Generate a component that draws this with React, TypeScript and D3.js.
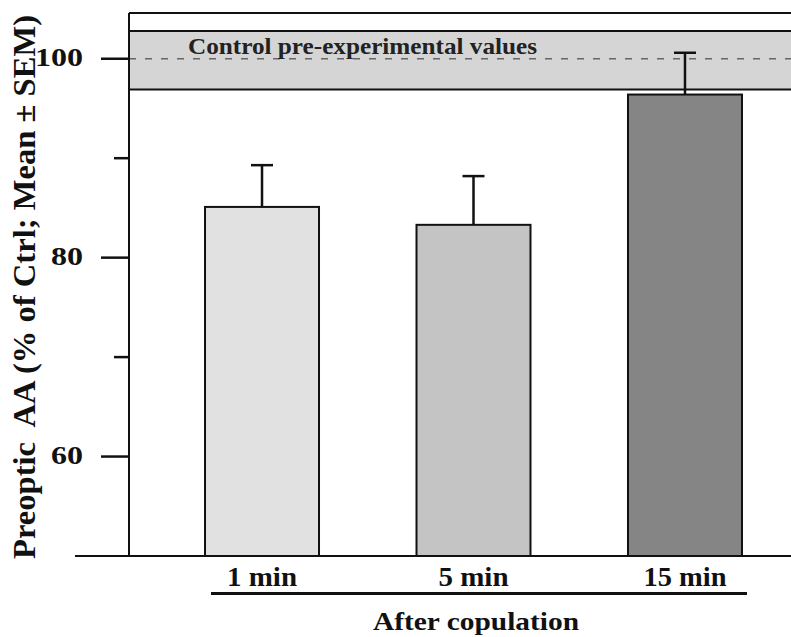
import React from 'react';
import * as d3 from 'd3';

const categories = ['1 min', '5 min', '15 min'];
const means = [85.1, 83.3, 96.4];
const sems = [4.2, 4.9, 4.2];
const barColors = ['#e1e1e1', '#c4c4c4', '#858585'];
const majorTicks = [60, 80, 100];
const minorTicks = [70, 90];
const controlBand = [96.9, 102.8];
const controlMean = 100;

const W = 791;
const H = 637;
const font = '"Liberation Serif", "Times New Roman", serif';

const App = () => {
  const left = 129;
  const top = 13;
  const bottom = 556;

  const y = d3.scaleLinear().domain([50, 104.6]).range([bottom, top]);
  const x = d3
    .scaleBand()
    .domain(categories)
    .range([131, 816])
    .paddingInner(0.461)
    .paddingOuter(0.35);

  const bw = x.bandwidth();
  // labels in the original are a bit wider than the font would give
  const catWidth = (c: string) => (c.length > 5 ? 83 : 70);

  return (
    <svg
      width={W}
      height={H}
      viewBox={`0 0 ${W} ${H}`}
      style={{ position: 'absolute', left: 0, top: 0, background: '#fff' }}
      fontFamily={font}
    >
      {/* control band */}
      <rect
        x={left}
        y={y(controlBand[1])}
        width={W - left + 10}
        height={y(controlBand[0]) - y(controlBand[1])}
        fill="#d5d5d5"
      />
      <line x1={left} x2={W} y1={y(controlBand[1])} y2={y(controlBand[1])} stroke="#111" strokeWidth={2} />
      <line x1={left} x2={W} y1={y(controlBand[0])} y2={y(controlBand[0])} stroke="#111" strokeWidth={2} />
      <line
        x1={left}
        x2={W}
        y1={y(controlMean)}
        y2={y(controlMean)}
        stroke="#666"
        strokeWidth={1.6}
        strokeDasharray="7,9"
      />
      <text
        x={188}
        y={54}
        fontSize={23}
        fontWeight="bold"
        fill="#222"
        textLength={349}
        lengthAdjust="spacingAndGlyphs"
      >
        Control pre-experimental values
      </text>

      {/* top frame */}
      <line x1={left} x2={W} y1={top} y2={top} stroke="#111" strokeWidth={2} />

      {/* bars */}
      {categories.map((c, i) => {
        const cx = (x(c) ?? 0) + bw / 2;
        return (
          <g key={c}>
            <line x1={cx} x2={cx} y1={y(means[i])} y2={y(means[i] + sems[i])} stroke="#111" strokeWidth={2.5} />
            <line x1={cx - 11} x2={cx + 11} y1={y(means[i] + sems[i])} y2={y(means[i] + sems[i])} stroke="#111" strokeWidth={2.5} />
            <rect
              x={x(c)}
              y={y(means[i])}
              width={bw}
              height={bottom - y(means[i])}
              fill={barColors[i]}
              stroke="#111"
              strokeWidth={2}
            />
            <text
              x={cx - catWidth(c) / 2}
              y={586}
              fontSize={27}
              fontWeight="bold"
              fill="#111"
              textLength={catWidth(c)}
              lengthAdjust="spacingAndGlyphs"
            >
              {c}
            </text>
          </g>
        );
      })}

      {/* axes */}
      <line x1={left} x2={left} y1={top} y2={bottom} stroke="#111" strokeWidth={2} />
      <line x1={75} x2={W} y1={bottom} y2={bottom} stroke="#111" strokeWidth={2} />
      {majorTicks.map(t => {
        const tw = String(t).length * 16;
        return (
          <g key={t}>
            <line x1={101} x2={left} y1={y(t)} y2={y(t)} stroke="#111" strokeWidth={2.5} />
            <text
              x={83 - tw}
              y={y(t) + 7}
              fontSize={26}
              fontWeight="bold"
              fill="#111"
              textLength={tw}
              lengthAdjust="spacingAndGlyphs"
            >
              {t}
            </text>
          </g>
        );
      })}
      {minorTicks.map(t => (
        <line key={t} x1={114} x2={left} y1={y(t)} y2={y(t)} stroke="#111" strokeWidth={2.5} />
      ))}

      {/* x grouping */}
      <line x1={211} x2={747} y1={593.5} y2={593.5} stroke="#111" strokeWidth={3} />
      <text
        x={373}
        y={630}
        fontSize={26}
        fontWeight="bold"
        fill="#111"
        textLength={206}
        lengthAdjust="spacingAndGlyphs"
      >
        After copulation
      </text>

      <text
        transform="translate(35,559) rotate(-90)"
        fontSize={32}
        fontWeight="bold"
        fill="#111"
        textLength={544}
        lengthAdjust="spacingAndGlyphs"
        style={{ whiteSpace: 'pre' }}
      >
        Preoptic  AA (% of Ctrl; Mean ± SEM)
      </text>
    </svg>
  );
};

export default App;
